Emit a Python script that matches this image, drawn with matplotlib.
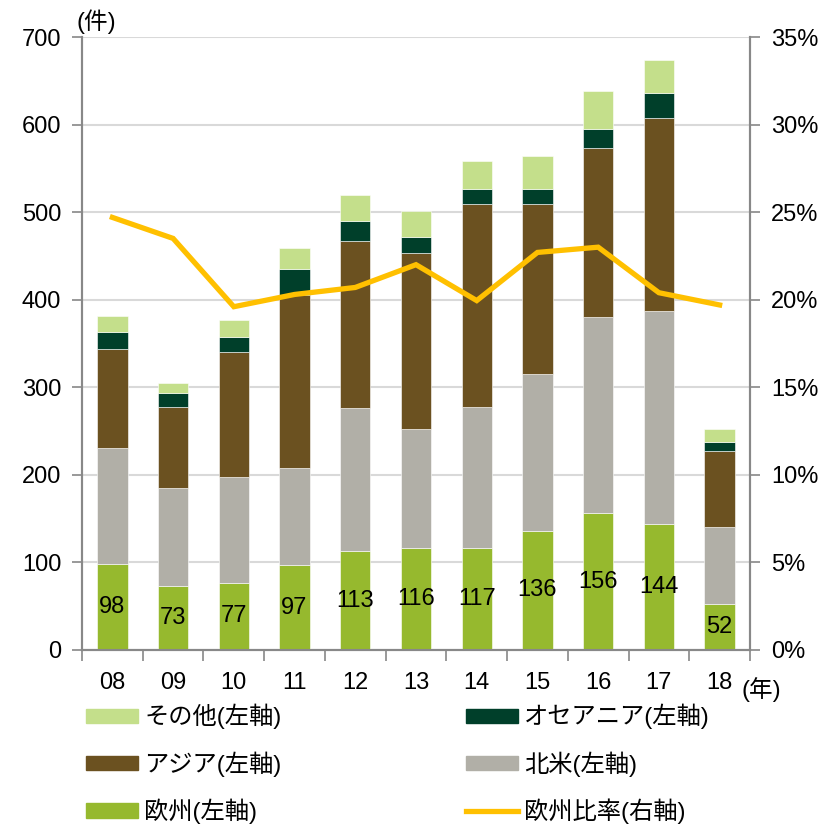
import matplotlib
matplotlib.use("Agg")
import matplotlib.pyplot as plt
from matplotlib.patches import Patch
from matplotlib.lines import Line2D
from matplotlib.ticker import FuncFormatter

plt.rcParams['font.family'] = ['Liberation Sans', 'Noto Sans CJK JP', 'DejaVu Sans']

years = ["08", "09", "10", "11", "12", "13", "14", "15", "16", "17", "18"]
europe = [98, 73, 77, 97, 113, 116, 117, 136, 156, 144, 52]
north_america = [133, 112, 121, 111, 163, 136, 161, 179, 224, 243, 89]
asia = [113, 93, 142, 197, 191, 201, 231, 194, 193, 221, 86]
oceania = [19, 16, 17, 30, 23, 19, 17, 17, 22, 28, 10]
other = [18, 11, 20, 24, 30, 29, 32, 38, 43, 38, 15]
europe_ratio = [24.7, 23.5, 19.6, 20.3, 20.7, 22.0, 19.95, 22.7, 23.0, 20.4, 19.7]

c_other = "#C4DF8B"
c_oce = "#003F2A"
c_asia = "#6B5120"
c_na = "#B1AFA7"
c_eu = "#96B92E"
c_line = "#FFC000"

fig = plt.figure(figsize=(8.29, 8.25), dpi=100)
ax = fig.add_axes([82/829, 175/825, 668/829, 613/825])
ax2 = ax.twinx()

x = list(range(len(years)))
w = 0.5
bottom = [0]*len(x)
series = [(europe, c_eu), (north_america, c_na), (asia, c_asia), (oceania, c_oce), (other, c_other)]
for vals, col in series:
    ax.bar(x, vals, w, bottom=bottom, color=col, edgecolor="white", linewidth=0.4, zorder=3)
    bottom = [b + v for b, v in zip(bottom, vals)]

for xi, v in zip(x, europe):
    ax.text(xi, v/2, str(v), ha="center", va="center", fontsize=17, color="black", zorder=5)

ax2.plot(x, europe_ratio, color=c_line, lw=3.8, zorder=4, solid_joinstyle="miter")

ax.set_xlim(-0.5, len(x)-0.5)
ax.set_ylim(0, 700)
ax.set_yticks(range(0, 701, 100))
ax2.set_ylim(0, 35)
ax2.set_yticks(range(0, 36, 5))
ax2.yaxis.set_major_formatter(FuncFormatter(lambda v, p: f"{int(v)}%"))

ax.grid(axis="y", color="#D9D9D9", lw=1.5, zorder=0)
ax.set_axisbelow(True)

ax.set_xticks(x)
ax.set_xticklabels(years)
ax.set_xticks([i + 0.5 for i in range(-1, len(x))], minor=True)
ax.tick_params(axis="x", which="major", length=0, pad=16, labelsize=17)
ax.tick_params(axis="x", which="minor", length=8, color="#888888", width=1.2)
ax.tick_params(axis="y", length=7, color="#888888", width=1.2, labelsize=17, pad=8)
ax2.tick_params(axis="y", length=7, color="#888888", width=1.2, labelsize=17, pad=8)

for a in (ax, ax2):
    a.spines["top"].set_visible(False)
    for s in ("left", "right", "bottom"):
        a.spines[s].set_color("#888888")
        a.spines[s].set_linewidth(1.5)

fig.text(77/829, 1 - 22/825, "(件)", fontsize=17, ha="left", va="center")
fig.text(742/829, 1 - 690/825, "(年)", fontsize=17, ha="left", va="center")

h_other = Patch(color=c_other, label="その他(左軸)")
h_oce = Patch(color=c_oce, label="オセアニア(左軸)")
h_asia = Patch(color=c_asia, label="アジア(左軸)")
h_na = Patch(color=c_na, label="北米(左軸)")
h_eu = Patch(color=c_eu, label="欧州(左軸)")
h_line = Line2D([0], [0], color=c_line, lw=3.8, label="欧州比率(右軸)")

common = dict(frameon=False, fontsize=17.5, handlelength=2.15, handleheight=0.55,
              handletextpad=0.25, labelspacing=0.9, borderpad=0, borderaxespad=0)
fig.legend(handles=[h_other, h_asia, h_eu], loc="upper left",
           bbox_to_anchor=(86/829, 1 - 704/825), **common)
fig.legend(handles=[h_oce, h_na, h_line], loc="upper left",
           bbox_to_anchor=(466/829, 1 - 704/825), **common)

fig.savefig("out.png", dpi=100)
